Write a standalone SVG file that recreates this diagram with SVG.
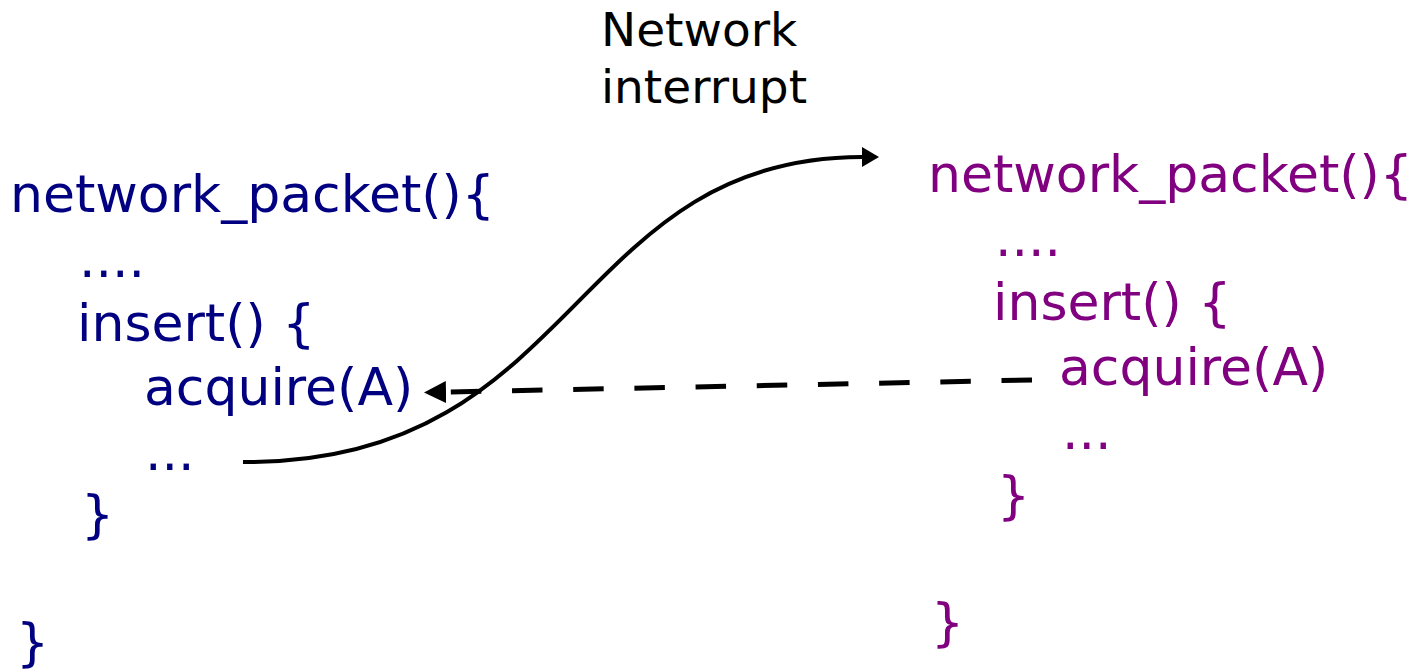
<svg xmlns="http://www.w3.org/2000/svg" width="1412" height="669" viewBox="0 0 1412 669">
<style>
text{font-family:"DejaVu Sans","Liberation Sans",sans-serif;font-size:52px}
.l text{fill:#000080}
.r text{fill:#800080}
.lab{fill:#000;font-size:47px}
.conn{fill:none;stroke:#000}
</style>
<defs>
<marker id="ah1" markerUnits="userSpaceOnUse" markerWidth="20" markerHeight="22" refX="0" refY="10" orient="auto"><path d="M0,0 L17,10 L0,20 Z" fill="#000"/></marker>
<marker id="ah2" markerUnits="userSpaceOnUse" markerWidth="24" markerHeight="24" refX="0" refY="11" orient="auto"><path d="M0,0 L22,11 L0,22 Z" fill="#000"/></marker>
</defs>
<rect width="1412" height="669" fill="#fff"/>
<g id="left-code" class="l">
<text x="10" y="212">network_packet(){</text>
<text x="79" y="277">....</text>
<text x="77" y="341">insert() {</text>
<text x="144" y="405">acquire(A)</text>
<text x="145" y="470">...</text>
<text x="81" y="532">}</text>
<text x="16" y="660">}</text>
</g>
<g id="right-code" class="r">
<text x="928" y="192">network_packet(){</text>
<text x="995" y="256">....</text>
<text x="993" y="320">insert() {</text>
<text x="1059" y="385">acquire(A)</text>
<text x="1062" y="449">...</text>
<text x="997" y="513">}</text>
<text x="931" y="640">}</text>
</g>
<g id="label">
<text class="lab" x="601" y="46">Network</text>
<text class="lab" x="601" y="103">interrupt</text>
</g>
<g id="connectors">
<path class="conn" d="M243,462 C580,465 570,157 862,157" stroke-width="4" marker-end="url(#ah1)"/>
<path class="conn" d="M1032,380 L446,392" stroke-width="5" stroke-dasharray="30.5 30.7" marker-end="url(#ah2)"/>
</g>
</svg>
